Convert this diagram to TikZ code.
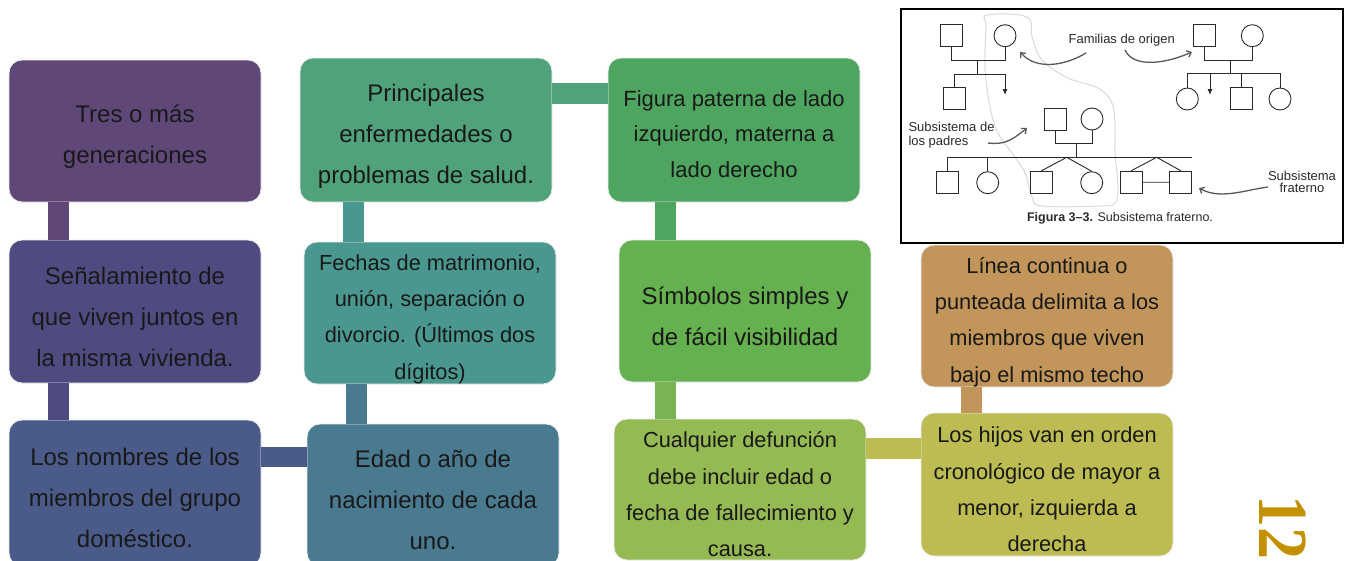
\documentclass[tikz,border=0pt]{standalone}
\usepackage{fontspec}
\setmainfont{Liberation Sans}
\newfontfamily\pagefont{Liberation Serif}
\usetikzlibrary{positioning, arrows.meta}

\definecolor{cA}{HTML}{5F4778}
\definecolor{cB}{HTML}{4F4A80}
\definecolor{cC}{HTML}{4A5B89}
\definecolor{cD}{HTML}{4A7A8F}
\definecolor{cE}{HTML}{4A978F}
\definecolor{cF}{HTML}{50A27B}
\definecolor{cG}{HTML}{4EA55F}
\definecolor{cH}{HTML}{65B14F}
\definecolor{cI}{HTML}{95B953}
\definecolor{cJ}{HTML}{BDBC53}
\definecolor{cK}{HTML}{C2965A}
\definecolor{ink}{HTML}{2A2A2A}
\definecolor{gold}{HTML}{C39100}

\tikzset{box/.style={rectangle, rounded corners=13pt, minimum width=252pt, minimum height=142pt, inner sep=0pt, draw=white!85!gray, line width=0.8pt}, % the coloured boxes
txt/.style={align=center, text=black!90, inner sep=0pt, yshift=-6pt}, % text sits a little low in each box
big/.style={txt, font=\fontsize{24}{41}\selectfont}, % two or three lines
mid/.style={txt, font=\fontsize{22}{35.5}\selectfont, yshift=2pt},
small/.style={txt, font=\fontsize{21.8}{36.3}\selectfont}, % four lines
bar/.style={line width=21pt}, % the thick links between boxes
man/.style={draw=ink, rectangle, minimum size=22pt, inner sep=0pt, line width=0.9pt},
woman/.style={draw=ink, circle, minimum size=22pt, inner sep=0pt, line width=0.9pt},
kin/.style={draw=ink, line width=0.9pt},
note/.style={text=ink, font=\fontsize{13}{14}\selectfont, inner sep=0pt},
curvy/.style={draw=gray!70!black, line width=1.3pt, -{Straight Barb[length=4pt,width=7pt]}}, % hand drawn arrows
}

\begin{document}
\begin{tikzpicture}[x=1pt, y=-1pt]
    \useasboundingbox (0,0) rectangle (1349,560);
    % boxes
    \node[box, fill=cA, label={[big]center:{Tres o más\\generaciones}}] (tres) at (135,131) {};
    \node[box, fill=cB, minimum height=143pt, label={[big, yshift=1pt]center:{Señalamiento de\\que viven juntos en\\la misma vivienda.}}] (senal) at (135,311.5) {};
    \node[box, fill=cC, minimum height=146pt, label={[big, yshift=1pt]center:{Los nombres de los\\miembros del grupo\\doméstico.}}] (nombres) at (135,493) {};
    \node[box, fill=cD, label={[big, yshift=1pt]center:{Edad o año de\\nacimiento de cada\\uno.}}] (edad) at (433,495) {};
    \node[box, fill=cE, label={[small]center:{Fechas de matrimonio,\\unión, separación o\\divorcio. (Últimos dos\\dígitos)}}] (fechas) at (430,313) {};
    \node[box, fill=cF, minimum height=144pt, label={[big]center:{Principales\\enfermedades o\\problemas de salud.}}] (salud) at (426,130) {};
    \node[box, fill=cG, minimum height=144pt, label={[mid]center:{Figura paterna de lado\\izquierdo, materna a\\lado derecho}}] (lado) at (734,130) {};
    \node[box, fill=cH, label={[big, yshift=1pt]center:{Símbolos simples y\\de fácil visibilidad}}] (simbolos) at (745,311) {};
    \node[box, fill=cI, minimum height=141pt, label={[small, yshift=1pt]center:{Cualquier defunción\\debe incluir edad o\\fecha de fallecimiento y\\causa.}}] (defuncion) at (740,489.5) {};
    \node[box, fill=cJ, minimum height=143pt, label={[small, yshift=1pt]center:{Los hijos van en orden\\cronológico de mayor a\\menor, izquierda a\\derecha}}] (hijos) at (1047,484.5) {};
    \node[box, fill=cK, label={[small]center:{Línea continua o\\punteada delimita a los\\miembros que viven\\bajo el mismo techo}}] (linea) at (1047,316) {};

    % links
    \draw[bar, cA] ([xshift=50pt]tres.south west) -- ([xshift=50pt]senal.north west);
    \draw[bar, cB] ([xshift=50pt]senal.south west) -- ([xshift=50pt]nombres.north west);
    \draw[bar, cC, line width=20pt] ([yshift=-37.5pt]nombres.north east) -- ([yshift=-37.5pt]nombres.north east -| edad.west);
    \draw[bar, cD] ([xshift=50pt]edad.north west) -- ([xshift=50pt]edad.north west |- fechas.south);
    \draw[bar, cE] ([xshift=50pt]fechas.north west) -- ([xshift=50pt]fechas.north west |- salud.south);
    \draw[bar, cF] ([yshift=-36pt]salud.north east) -- ([yshift=-36pt]salud.north east -| lado.west);
    \draw[bar, cG] ([xshift=58pt]lado.south west) -- ([xshift=58pt]lado.south west |- simbolos.north);
    \draw[bar, cH!60!cI] ([xshift=47pt]simbolos.south west) -- ([xshift=47pt]simbolos.south west |- defuncion.north);
    \draw[bar, cJ] ([yshift=-30pt]defuncion.north east) -- ([yshift=-30pt]defuncion.north east -| hijos.west);
    \draw[bar, cK] ([xshift=50.5pt]hijos.north west) -- ([xshift=50.5pt]hijos.north west |- linea.south);

    % page number
    \node[text=gold, font=\pagefont\bfseries\fontsize{64}{64}\selectfont, rotate=-90, inner sep=0pt] (page) at (1283,527) {\scalebox{1}[1.1]{12}};

    % figure 3-3
    \node[draw=black, line width=2pt, fill=white, minimum width=442pt, minimum height=234pt, inner sep=0pt] (fig) at (1122,126) {};
    \draw[gray!30, line width=1pt] plot[smooth cycle, tension=0.6] coordinates {(987,15) (1027,17) (1032,37) (1042,60) (1068,78) (1098,88) (1112,103) (1115,127) (1115,153) (1118,187) (1115,203) (1102,206) (1042,206) (1032,197) (1025,173) (1012,153) (998,133) (990,107) (985,67) (986,27)};
    \node[man] (gf1) at (951.7,35.8) {};
    \node[woman] (gm1) at (1005,35.7) {};
    \node[man] (son1) at (954.2,98.3) {};
    \draw[kin] (gf1.south) -- ++(0,13.3) -| (gm1.south);
    \draw[kin] (977.5,60) -- (977.5,74);
    \draw[kin] (son1.north) |- (1005,74) coordinate (lost1);
    \draw[kin, -{Latex[length=6pt,width=5pt]}] (lost1) -- ++(0,21);
    \node[man] (gf2) at (1204.8,35.8) {};
    \node[woman] (gm2) at (1252.3,35.7) {};
    \node[woman] (dau2) at (1187.3,99) {};
    \node[man] (son2) at (1241.5,98.5) {};
    \node[woman] (dau3) at (1280,99) {};
    \draw[kin] (gf2.south) -- ++(0,13.3) -| (gm2.south);
    \draw[kin] (1230,60) -- (1230,74);
    \draw[kin] (dau2.north) -- ++(0,-14) -| (dau3.north);
    \draw[kin] (son2.north) -- ++(0,-13.7);
    \draw[kin, -{Latex[length=6pt,width=5pt]}] (1210,74) -- ++(0,21);
    \node[man] (dad) at (1055,119) {};
    \node[woman] (mom) at (1092,119) {};
    \draw[kin] (dad.south) -- ++(0,12.7) -| (mom.south);
    \draw[kin] (1076.7,142.7) -- (1076.7,157.3);
    \node[man] (k1) at (947,182.5) {};
    \node[woman] (k2) at (987.7,182.7) {};
    \node[man] (k3) at (1041,182.5) {};
    \node[woman] (k4) at (1091.7,182.7) {};
    \node[man] (k5) at (1131.2,182.2) {};
    \node[man] (k6) at (1180.8,182.2) {};
    \draw[kin] (k1.north) |- (1192,157.3);
    \draw[kin] (k2.north) -- ++(0,-14.3);
    \draw[kin] (k3.north) -- (1066.7,157.3) -- (k4.north);
    \draw[kin] (k5.north) -- (1156.7,157.3) -- (k6.north) (k5) -- (k6);
    \node[note] (origen) at (1121.7,40) {Familias de origen};
    \node[note, anchor=west, align=left] (padres) at (908.3,135.5) {Subsistema de\\los padres};
    \node[note, align=center, font=\fontsize{13}{12.5}\selectfont] (fraterno) at (1302,182) {Subsistema\\fraterno};
    \node[note, font=\fontsize{12.5}{14}\selectfont] (caption) at (1120,218) {\textbf{Figura 3--3.} Subsistema fraterno.};
    \draw[curvy] (1086,53) .. controls (1068,64) and (1038,72) .. (1020,52);
    \draw[curvy] (1125,50) .. controls (1132,66) and (1160,66) .. (1192,52);
    \draw[curvy] (988,143) .. controls (1005,145) and (1012,140) .. (1027,128);
    \draw[curvy] (1268,187) .. controls (1245,190) and (1220,200) .. (1199,188);
\end{tikzpicture}
\end{document}
